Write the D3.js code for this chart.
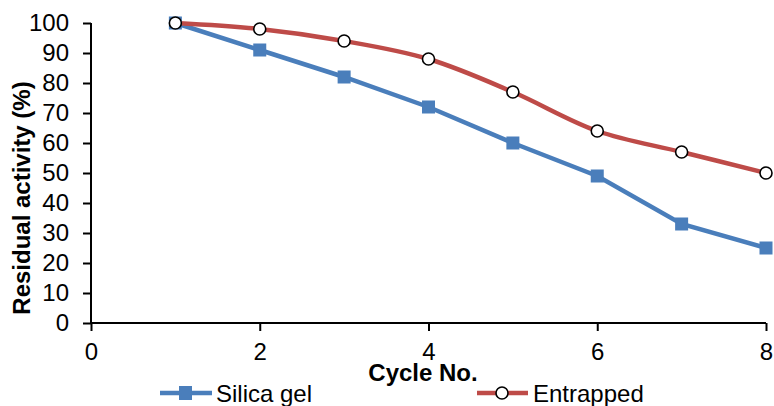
<!DOCTYPE html>
<html>
<head>
<meta charset="utf-8">
<script src="https://cdn.jsdelivr.net/npm/d3@7"></script>
<style>
  body { margin: 0; background: #fff; }
  svg { display: block; font-family: "Liberation Sans", Arial, sans-serif; }
</style>
</head>
<body>
<svg id="chart" width="774" height="406"></svg>
<script>
// data
const cycles = [1, 2, 3, 4, 5, 6, 7, 8];
const silicaGel = [100, 91, 82, 72, 60, 49, 33, 25];
const entrapped = [100, 98, 94, 88, 77, 64, 57, 50];
const xTicks = [0, 2, 4, 6, 8];
const yTicks = [0, 10, 20, 30, 40, 50, 60, 70, 80, 90, 100];

const svg = d3.select("#chart");
const x = d3.scaleLinear().domain([0, 8]).range([91, 766]);
const y = d3.scaleLinear().domain([0, 100]).range([323, 23]);

// axes
const yAxis = svg.append("g")
  .attr("transform", `translate(${x(0)},0)`)
  .call(d3.axisLeft(y).tickValues(yTicks).tickSize(8).tickPadding(14));
const xAxis = svg.append("g")
  .attr("transform", `translate(0,${y(0)})`)
  .call(d3.axisBottom(x).tickValues(xTicks).tickSize(8).tickPadding(12));
[xAxis, yAxis].forEach(a => {
  a.attr("font-size", null).attr("font-family", null);
  a.select(".domain").attr("stroke", "#000").attr("stroke-width", 2);
  a.selectAll(".tick line").attr("stroke", "#000").attr("stroke-width", 2);
  a.selectAll(".tick text").attr("fill", "#000").style("font-size", "24px");
});
// drop the outer tick stubs from the domain path
yAxis.select(".domain").attr("d", `M0,${y(0)}V${y(100)}`);
xAxis.select(".domain").attr("d", `M${x(0)},0H${x(8)}`);

// titles
svg.append("text")
  .attr("transform", `translate(30,198) rotate(-90)`)
  .attr("text-anchor", "middle")
  .style("font-size", "24px").style("font-weight", "bold")
  .text("Residual activity (%)");
svg.append("text")
  .attr("x", 423).attr("y", 381)
  .attr("text-anchor", "middle")
  .style("font-size", "24px").style("font-weight", "bold")
  .text("Cycle No.");

// series
const blue = "#4a7ebb", red = "#be4b48";
const lineStraight = d3.line().x((d, i) => x(cycles[i])).y(d => y(d));
const lineSmooth = d3.line().x((d, i) => x(cycles[i])).y(d => y(d)).curve(d3.curveCatmullRom.alpha(0.5));

svg.append("path").datum(silicaGel)
  .attr("fill", "none").attr("stroke", blue).attr("stroke-width", 4.5)
  .attr("d", lineStraight);
svg.append("path").datum(entrapped)
  .attr("fill", "none").attr("stroke", red).attr("stroke-width", 4.5)
  .attr("d", lineSmooth);

svg.append("g").selectAll("rect").data(silicaGel).join("rect")
  .attr("x", (d, i) => x(cycles[i]) - 6.5).attr("y", d => y(d) - 6.5)
  .attr("width", 13).attr("height", 13).attr("fill", blue);
svg.append("g").selectAll("circle").data(entrapped).join("circle")
  .attr("cx", (d, i) => x(cycles[i])).attr("cy", d => y(d)).attr("r", 6)
  .attr("fill", "#fff").attr("stroke", "#000").attr("stroke-width", 1.6);

// legend
const legend = svg.append("g").style("font-size", "24px");
legend.append("line").attr("x1", 160).attr("x2", 212).attr("y1", 393).attr("y2", 393)
  .attr("stroke", blue).attr("stroke-width", 4.5);
legend.append("rect").attr("x", 179).attr("y", 386).attr("width", 13).attr("height", 14).attr("fill", blue);
legend.append("text").attr("x", 216).attr("y", 402).text("Silica gel");
legend.append("line").attr("x1", 477).attr("x2", 528).attr("y1", 393).attr("y2", 393)
  .attr("stroke", red).attr("stroke-width", 4.5);
legend.append("circle").attr("cx", 502).attr("cy", 393).attr("r", 6)
  .attr("fill", "#fff").attr("stroke", "#000").attr("stroke-width", 1.6);
legend.append("text").attr("x", 533).attr("y", 402).text("Entrapped");
</script>
</body>
</html>
